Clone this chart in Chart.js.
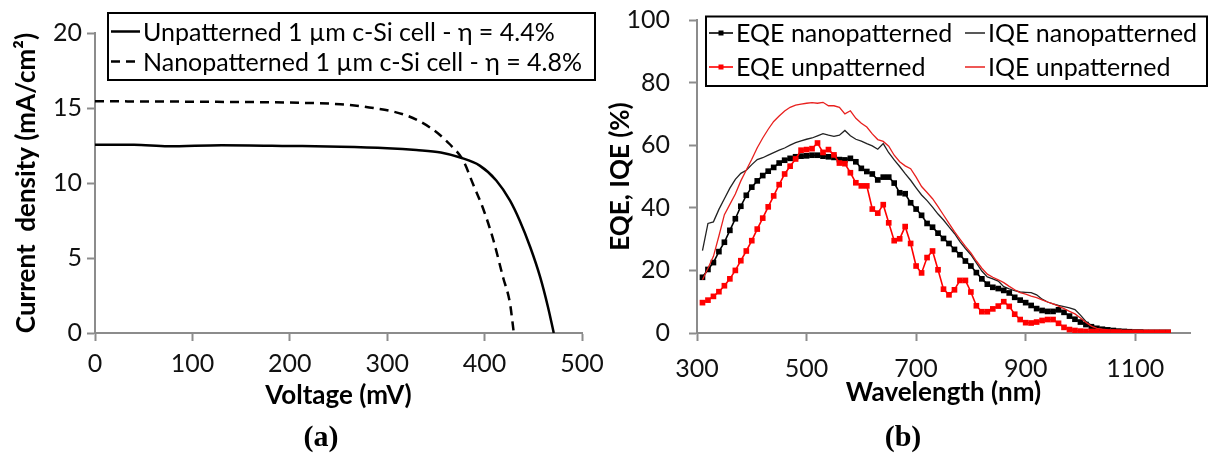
<!DOCTYPE html>
<html>
<head>
<script src="https://cdn.jsdelivr.net/npm/chart.js"></script>
<style>
    body { margin: 0; background: #fff; width: 1214px; height: 455px; position: relative; overflow: hidden; }
    canvas { position: absolute; top: 0; }
    #left { left: 0; }
    #right { left: 605px; }
    .tag {
        position: absolute; top: 436px;
        transform: translate(-50%, -50%);
        font-family: "Liberation Serif", serif; font-weight: bold; font-size: 30px; color: #000;
    }
</style>
</head>
<body>
<canvas id="left" width="605" height="455"></canvas>
<canvas id="right" width="609" height="455"></canvas>
<div class="tag" style="left:321px">(a)</div>
<div class="tag" style="left:903px">(b)</div>

<script>
// (a) J-V curves
const unpatVoltage = [0, 40, 75, 130, 200, 252, 300, 330, 355, 375, 395, 412, 426, 436, 447, 457, 465, 471];
const unpatCurrent = [12.55, 12.55, 12.45, 12.52, 12.47, 12.42, 12.32, 12.2, 12.04, 11.7, 11.16, 10.17, 8.84, 7.5, 5.7, 3.74, 1.75, 0];
const nanoVoltage = [0, 100, 200, 252, 286, 320, 344, 364, 378, 388, 399, 409, 419, 426, 430];
const nanoCurrent = [15.45, 15.42, 15.36, 15.25, 15.0, 14.5, 13.7, 12.6, 11.5, 9.95, 8.2, 6.2, 3.7, 2.0, 0];

// (b) quantum efficiency spectra
const wavelengthTicks = [300, 500, 700, 900, 1100];
const wavelengths = [
    310, 320, 330, 340, 350, 360, 370, 380, 390, 400, 410, 420, 430, 440, 450, 460, 470, 480, 490, 500,
    510, 520, 530, 540, 550, 560, 570, 580, 590, 600, 610, 620, 630, 640, 650, 660, 670, 680, 690, 700,
    710, 720, 730, 740, 750, 760, 770, 780, 790, 800, 810, 820, 830, 840, 850, 860, 870, 880, 890, 900,
    910, 920, 930, 940, 950, 960, 970, 980, 990, 1000, 1010, 1020, 1030, 1040, 1050, 1060, 1070, 1080, 1090, 1100,
    1110, 1120, 1130, 1140, 1150, 1160
];
const eqeNano = [
    17.8, 20.3, 22.5, 26.0, 29.0, 32.8, 36.5, 40.5, 44.0, 46.6, 48.6, 50.3, 51.7, 52.9, 54.3, 55.2, 55.8, 56.3, 56.5, 56.6,
    56.8, 56.8, 56.5, 56.3, 56.1, 55.4, 55.3, 55.8, 54.7, 52.6, 51.6, 50.8, 48.9, 49.8, 49.8, 47.9, 44.8, 44.5, 41.6, 39.6,
    37.6, 35.0, 33.8, 31.9, 30.2, 28.6, 26.7, 25.0, 23.0, 21.4, 19.3, 17.3, 15.6, 14.6, 14.2, 13.6, 12.8, 11.4, 10.5, 9.7,
    8.8, 7.8, 7.2, 6.9, 6.9, 7.4, 6.6, 5.4, 4.4, 3.5, 2.7, 2.0, 1.5, 1.2, 1.0, 0.8, 0.6, 0.5, 0.4, 0.3,
    0.3, 0.2, 0.2, 0.2, 0.2, 0.2
];
const eqeUnpat = [
    9.7, 10.5, 11.7, 13.2, 15.1, 17.3, 20.0, 23.1, 26.2, 29.5, 33.2, 36.7, 40.3, 43.8, 47.4, 50.8, 53.3, 55.6, 58.4, 58.6,
    58.9, 60.7, 57.7, 58.6, 56.9, 54.3, 54.1, 51.2, 48.0, 47.0, 47.0, 39.6, 38.3, 41.0, 35.2, 29.5, 30.1, 34.0, 28.6, 21.4,
    19.2, 24.1, 26.2, 20.2, 14.0, 12.2, 13.8, 16.8, 16.8, 13.1, 8.7, 6.8, 6.8, 7.7, 8.6, 10.0, 8.5, 6.0, 4.3, 3.3,
    3.2, 3.5, 4.0, 4.3, 4.3, 3.1, 1.8, 1.1, 0.8, 0.6, 0.5, 0.5, 0.4, 0.3, 0.3, 0.3, 0.3, 0.2, 0.2, 0.2,
    0.2, 0.2, 0.2, 0.2, 0.2, 0.2
];
const iqeNano = [
    26.3, 35.0, 35.5, 39.5, 42.9, 46.3, 49.1, 51.0, 52.0, 53.8, 55.4, 56.0, 56.8, 57.6, 58.4, 59.1, 60.0, 60.8, 61.4, 61.9,
    62.3, 63.0, 63.7, 63.2, 62.8, 63.2, 64.7, 63.0, 61.9, 61.3, 60.5, 59.8, 58.7, 60.5, 57.6, 55.3, 53.2, 50.9, 48.8, 46.4,
    44.1, 42.3, 40.2, 38.0, 36.1, 33.9, 31.8, 29.2, 27.0, 25.0, 22.4, 19.8, 17.9, 17.3, 16.6, 14.8, 14.1, 13.5, 13.1, 13.0,
    12.9, 12.2, 10.8, 9.9, 9.3, 8.8, 8.4, 8.0, 7.5, 5.7, 3.7, 2.5, 1.8, 1.4, 1.1, 0.9, 0.8, 0.6, 0.5, 0.4,
    0.4, 0.3, 0.3, 0.3, 0.3, 0.3
];
const iqeUnpat = [
    17.0, 20.7, 24.5, 31.0, 37.8, 41.1, 44.4, 48.6, 52.1, 55.5, 59.2, 62.3, 65.1, 67.6, 69.3, 70.9, 72.1, 72.8, 73.1, 73.4,
    73.6, 73.4, 73.7, 72.6, 72.6, 72.1, 70.0, 71.0, 68.6, 67.0, 65.8, 63.6, 61.8, 61.2, 59.7, 56.8, 54.7, 53.4, 52.5, 49.8,
    46.8, 44.9, 42.9, 40.4, 37.7, 35.0, 32.4, 30.0, 27.7, 25.6, 23.0, 20.7, 18.8, 17.8, 17.0, 16.1, 14.9, 13.8, 12.9, 12.4,
    11.8, 11.3, 10.6, 9.9, 9.3, 8.6, 7.8, 6.9, 6.1, 4.8, 3.4, 2.2, 1.5, 1.2, 1.0, 0.9, 0.7, 0.6, 0.5, 0.4,
    0.3, 0.3, 0.3, 0.3, 0.3, 0.3
];

const AXIS_GREY = '#8c8c8c';
const SANS = 'Lato, "Open Sans", sans-serif';

function pairs(xs, ys) {
    return xs.map((x, i) => ({ x: x, y: ys[i] }));
}

// legend drawn in a framed box, items laid out like the original
const boxLegend = {
    id: 'boxLegend',
    afterDraw(chart, args, opts) {
        if (!opts.items) return;
        const ctx = chart.ctx;
        ctx.save();
        ctx.lineWidth = 2;
        ctx.strokeStyle = '#000';
        ctx.strokeRect(opts.box[0], opts.box[1], opts.box[2], opts.box[3]);
        ctx.font = opts.font;
        ctx.textBaseline = 'middle';
        opts.items.forEach(it => {
            const ds = chart.data.datasets[it.index];
            ctx.beginPath();
            ctx.setLineDash(ds.borderDash || []);
            ctx.strokeStyle = ds.borderColor;
            ctx.lineWidth = Math.max(ds.borderWidth, 1.5);
            ctx.moveTo(it.x, it.y);
            ctx.lineTo(it.x + it.w, it.y);
            ctx.stroke();
            ctx.setLineDash([]);
            if (ds.pointRadius > 0) {
                ctx.fillStyle = ds.pointBackgroundColor;
                ctx.fillRect(it.x + it.w / 2 - 2.5, it.y - 2.5, 5, 5);
            }
            ctx.fillStyle = '#000';
            ctx.fillText(ds.label, it.x + it.w + 3, it.y + 1);
        });
        ctx.restore();
    }
};

function axis(min, max, step, tickPad, title, titlePad, extra) {
    return Object.assign({
        type: 'linear',
        min: min,
        max: max,
        ticks: { stepSize: step, padding: tickPad, color: '#111', autoSkip: false,
                 font: { family: SANS, size: 25 }, callback: v => String(v) },
        grid: { drawOnChartArea: false, tickLength: 8, tickWidth: 2, tickColor: AXIS_GREY },
        border: { color: AXIS_GREY, width: 2 },
        title: { display: true, text: title, color: '#000', padding: titlePad,
                 font: { family: SANS, size: 26, weight: 'bold', lineHeight: 1.2 } }
    }, extra);
}

// fixed axis box sizes so the plot area lands where the original has it
function fixHeight(h) {
    return s => { s.height = h; s.paddingLeft = 0; s.paddingRight = 0; };
}
function fixWidth(w) {
    return s => { s.width = w; s.paddingTop = 0; s.paddingBottom = 0; };
}

new Chart(document.getElementById('left'), {
    type: 'scatter',
    data: {
        datasets: [
            {
                label: 'Unpatterned 1 µm c-Si cell - η = 4.4%',
                data: pairs(unpatVoltage, unpatCurrent),
                showLine: true, borderColor: '#000', borderWidth: 2.5, pointRadius: 0,
                cubicInterpolationMode: 'monotone', tension: 0.4
            },
            {
                label: 'Nanopatterned 1 µm c-Si cell - η = 4.8%',
                data: pairs(nanoVoltage, nanoCurrent),
                showLine: true, borderColor: '#000', borderWidth: 2.5, borderDash: [9, 6], pointRadius: 0,
                cubicInterpolationMode: 'monotone', tension: 0.4
            }
        ]
    },
    options: {
        responsive: false,
        animation: false,
        devicePixelRatio: 1,
        layout: { padding: { top: 33, right: 23, bottom: 44, left: 0 } },
        plugins: {
            legend: { display: false },
            tooltip: { enabled: false },
            boxLegend: {
                box: [108, 13, 487, 67],
                font: '25px ' + SANS,
                items: [
                    { index: 0, x: 111, y: 31.5, w: 29 },
                    { index: 1, x: 111, y: 61.5, w: 29 }
                ]
            }
        },
        scales: {
            x: axis(0, 500, 100, 8, 'Voltage (mV)', { top: 0, bottom: 0 },
                    { afterFit: fixHeight(78) }),
            y: axis(0, 20, 5, 5, 'Current  density (mA/cm²)', { top: 11, bottom: 0 },
                    { afterFit: fixWidth(95) })
        }
    },
    plugins: [boxLegend]
});

new Chart(document.getElementById('right'), {
    type: 'line',
    data: {
        datasets: [
            {
                label: 'EQE unpatterned',
                data: pairs(wavelengths, eqeUnpat),
                borderColor: '#ff0000', borderWidth: 1.6, tension: 0,
                pointStyle: 'rect', pointRadius: 4, pointBorderWidth: 0, pointBackgroundColor: '#ff0000'
            },
            {
                label: 'IQE unpatterned',
                data: pairs(wavelengths, iqeUnpat),
                borderColor: '#e8201e', borderWidth: 1.3, tension: 0, pointRadius: 0
            },
            {
                label: 'EQE nanopatterned',
                data: pairs(wavelengths, eqeNano),
                borderColor: '#000', borderWidth: 1.6, tension: 0,
                pointStyle: 'rect', pointRadius: 4, pointBorderWidth: 0, pointBackgroundColor: '#000'
            },
            {
                label: 'IQE nanopatterned',
                data: pairs(wavelengths, iqeNano),
                borderColor: '#222', borderWidth: 1.3, tension: 0, pointRadius: 0
            }
        ]
    },
    options: {
        responsive: false,
        animation: false,
        devicePixelRatio: 1,
        layout: { padding: { top: 20, right: 24, bottom: 47, left: 0 } },
        plugins: {
            legend: { display: false },
            tooltip: { enabled: false },
            boxLegend: {
                box: [101, 16.5, 501, 69.5],
                font: '25px ' + SANS,
                items: [
                    { index: 2, x: 104, y: 33, w: 24 },
                    { index: 3, x: 360, y: 33, w: 20 },
                    { index: 0, x: 104, y: 67, w: 24 },
                    { index: 1, x: 360, y: 67, w: 20 }
                ]
            }
        },
        scales: {
            x: axis(300, 1200, 200, 13, 'Wavelength (nm)', { top: 0, bottom: 0 }, {
                afterFit: fixHeight(75),
                afterBuildTicks: s => { s.ticks = wavelengthTicks.map(v => ({ value: v })); }
            }),
            y: axis(0, 100, 20, 19, 'EQE, IQE (%)', { top: 0, bottom: 0 },
                    { afterFit: fixWidth(92) })
        }
    },
    plugins: [boxLegend]
});
</script>
</body>
</html>
